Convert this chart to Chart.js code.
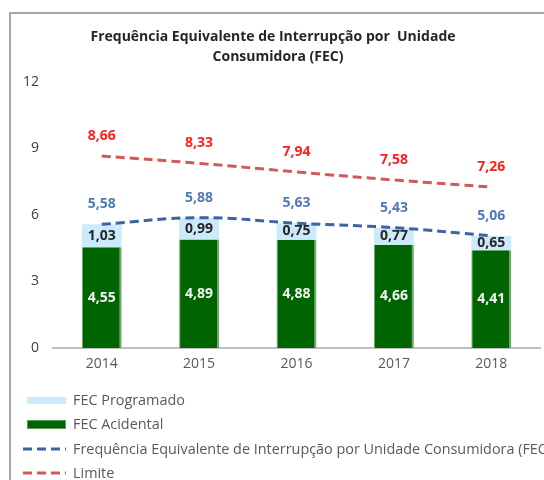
<!DOCTYPE html>
<html><head><meta charset="utf-8">
<script src="https://cdn.jsdelivr.net/npm/chart.js@4.4.1/dist/chart.umd.min.js"></script>
<style>html,body{margin:0;padding:0;background:#fff}#wrap{width:544px;height:480px}</style>
</head><body><div id="wrap"><canvas id="c" width="544" height="480"></canvas></div>
<script>
const categories = ['2014','2015','2016','2017','2018'];
const fecAcidental = [4.55, 4.89, 4.88, 4.66, 4.41];
const fecProgramado = [1.03, 0.99, 0.75, 0.77, 0.65];
const fecTotal = [5.58, 5.88, 5.63, 5.43, 5.06];
const limite = [8.66, 8.33, 7.94, 7.58, 7.26];
const yTicks = [0, 3, 6, 9, 12];
const titleLines = ['Frequência Equivalente de Interrupção por  Unidade', 'Consumidora (FEC)'];
const seriesNames = ['FEC Programado', 'FEC Acidental', 'Frequência Equivalente de Interrupção por Unidade Consumidora (FEC)', 'Limite'];

const FONT = '"Open Sans", Lato, sans-serif';
const fmt = v => v.toFixed(2).replace('.', ',');

const decor = {
  id: 'decor',
  beforeDraw(chart) {
    const ctx = chart.ctx;
    ctx.save();
    ctx.fillStyle = '#a6a6a6';
    ctx.fillRect(9, 12, 2, 468);
    ctx.fillRect(9, 12, 535, 2);
    ctx.fillStyle = '#262626';
    ctx.font = 'bold 14px ' + FONT;
    ctx.textAlign = 'center';
    ctx.textBaseline = 'middle';
    ctx.fillText(titleLines[0], 273, 37);
    ctx.fillText(titleLines[1], 278, 57);
    ctx.restore();
  },
  afterDraw(chart) {
    const ctx = chart.ctx;
    ctx.save();
    ctx.textAlign = 'center';
    ctx.textBaseline = 'middle';
    const dsMeta = i => chart.getDatasetMeta(i);
    ctx.font = 'bold 14px ' + FONT;
    dsMeta(0).data.forEach((el, i) => {
      ctx.fillStyle = '#f2f2f2';
      ctx.fillText(fmt(fecAcidental[i]), el.x, (el.y + el.base) / 2);
    });
    dsMeta(1).data.forEach((el, i) => {
      ctx.fillStyle = '#262626';
      ctx.fillText(fmt(fecProgramado[i]), el.x, (el.y + el.base) / 2);
    });
    dsMeta(2).data.forEach((el, i) => {
      ctx.fillStyle = '#5279b5';
      ctx.fillText(fmt(fecTotal[i]), el.x, el.y - 20);
    });
    dsMeta(3).data.forEach((el, i) => {
      ctx.fillStyle = '#ff1f1f';
      ctx.fillText(fmt(limite[i]), el.x, el.y - 20);
    });
    // legend
    const rows = [400, 424, 449, 473];
    ctx.textAlign = 'left';
    ctx.font = '14.4px ' + FONT;
    rows.forEach((y, i) => {
      if (i === 0) { ctx.fillStyle = '#cdeafa'; ctx.fillRect(27, y - 3, 39, 7); }
      if (i === 1) { ctx.fillStyle = '#5a9e5a'; ctx.fillRect(27, y - 4, 39, 9); ctx.fillStyle = '#006400'; ctx.fillRect(28, y - 3, 37, 7); }
      if (i >= 2) {
        ctx.strokeStyle = i === 2 ? '#3c64a0' : '#d05a5a';
        ctx.lineWidth = 3;
        ctx.setLineDash([9, 5]);
        ctx.beginPath(); ctx.moveTo(23, y); ctx.lineTo(66, y); ctx.stroke();
        ctx.setLineDash([]);
      }
      ctx.fillStyle = '#595959';
      ctx.fillText(seriesNames[i], 73, y + 1);
    });
    ctx.restore();
  }
};

new Chart(document.getElementById('c'), {
  data: {
    labels: categories,
    datasets: [
      { type: 'bar', label: seriesNames[1], data: fecAcidental, backgroundColor: '#006400', borderColor: '#6aa86a', borderWidth: {left: 1, right: 2, top: 0, bottom: 0}, borderSkipped: false, stack: 'b', order: 2 },
      { type: 'bar', label: seriesNames[0], data: fecProgramado, backgroundColor: '#cdeafa', borderWidth: 0, stack: 'b', order: 3 },
      { type: 'line', label: seriesNames[2], data: fecTotal, borderColor: '#3c64a0', borderWidth: 3, borderDash: [9, 5], pointRadius: 0, tension: 0.4, fill: false, stack: 'l1', order: 1 },
      { type: 'line', label: seriesNames[3], data: limite, borderColor: '#d05a5a', borderWidth: 3, borderDash: [9, 5], pointRadius: 0, tension: 0.4, fill: false, stack: 'l2', order: 0 }
    ]
  },
  options: {
    responsive: false,
    animation: false,
    events: [],
    layout: { padding: { top: 82, right: 4, left: 0, bottom: 0 } },
    datasets: { bar: { barPercentage: 0.41, categoryPercentage: 1 } },
    plugins: { legend: { display: false }, title: { display: false }, tooltip: { enabled: false } },
    scales: {
      x: {
        stacked: true,
        grid: { display: false, drawTicks: false },
        border: { display: true, color: '#bfbfbf', width: 2 },
        ticks: { color: '#595959', font: { size: 14, family: FONT }, padding: 8 },
        afterFit(s) { s.height = 132; }
      },
      y: {
        stacked: true,
        min: 0, max: 12,
        afterBuildTicks(s) { s.ticks = yTicks.map(v => ({ value: v })); },
        grid: { display: false, drawTicks: false },
        border: { display: false },
        ticks: { color: '#404040', font: { size: 14, family: FONT }, padding: 14 },
        afterFit(s) { s.width = 53; }
      }
    }
  },
  plugins: [decor]
});
</script></body></html>
